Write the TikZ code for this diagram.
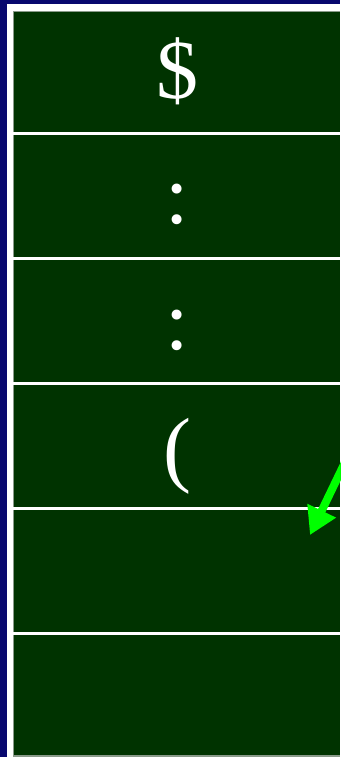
\documentclass[tikz,border=0pt]{standalone}
\usepackage{fontspec}
\setmainfont{Liberation Serif}
\usetikzlibrary{arrows.meta}
\definecolor{navy}{HTML}{07076E}
\definecolor{cellgreen}{HTML}{003300}
\definecolor{arrowgreen}{HTML}{00FF00}
\definecolor{edgegray}{HTML}{8A9A8A}
\begin{document}
\begin{tikzpicture}[x=1pt,y=-1pt,
  sym/.style={text=white,font=\fontsize{84}{84}\selectfont,anchor=base,inner sep=0pt},
  sepline/.style={white,line width=3pt},
  pointer/.style={arrowgreen,line width=8pt,-{Triangle[length=27pt,width=30pt]}}]
\fill[navy] (0,0) rectangle (340,757);
\useasboundingbox (0,0) rectangle (340,757);
\fill[white] (7,4) rectangle (340,757);
\fill[edgegray] (13,11) rectangle (340,757);
\fill[cellgreen] (14,12) rectangle (340,755);
\foreach \y in {133.5,258.5,383.5,508.5,633.5}
  \draw[sepline] (13,\y) -- (340,\y);
\node[sym] (dollar) at (177,99) {\$};
\node[sym] (colonA) at (177,223) {:};
\node[sym] (colonB) at (177,349) {:};
\node[sym] (paren) at (177,476) {(};
\coordinate (arrowstart) at (350,452);
\coordinate (arrowtip) at (310,535);
\draw[pointer] (arrowstart) -- (arrowtip);
\end{tikzpicture}
\end{document}
